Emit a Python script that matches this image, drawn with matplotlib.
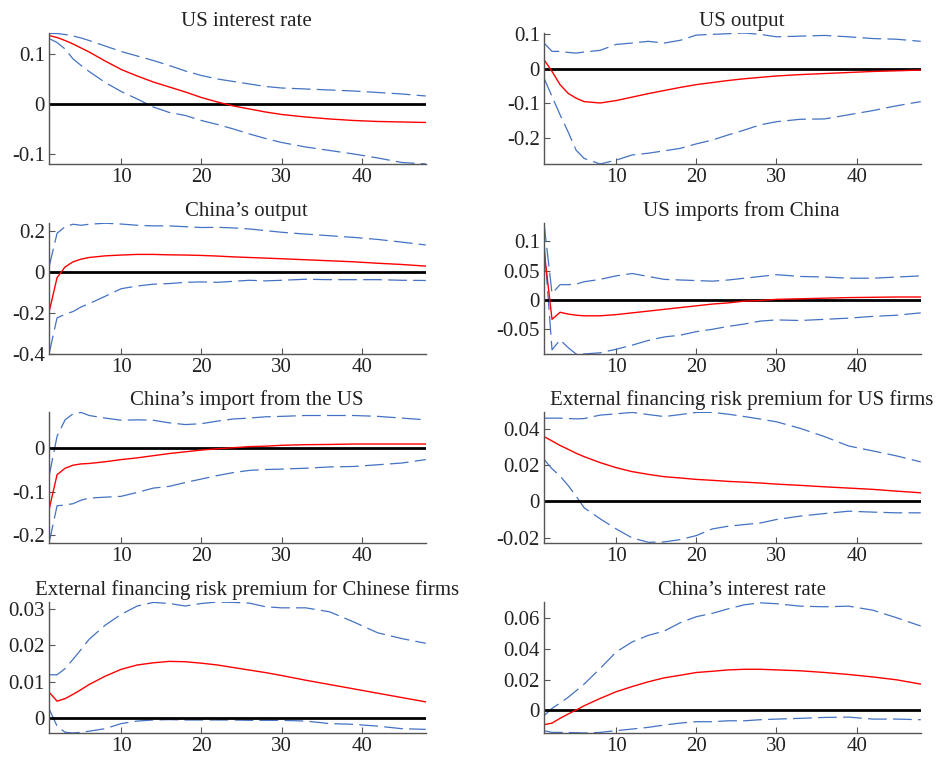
import matplotlib.pyplot as plt

plt.rcParams['font.family'] = ['Liberation Serif', 'DejaVu Serif']

periods = [1, 2, 3, 4, 5, 6, 8, 10, 12, 14, 16, 18, 20, 22, 24, 26, 28, 30, 33, 36, 39, 42, 45, 48]

titles = [
    "US interest rate", "US output",
    "China\u2019s output", "US imports from China",
    "China\u2019s import from the US", "External financing risk premium for US firms",
    "External financing risk premium for Chinese firms", "China\u2019s interest rate",
]

us_rate_med = [0.137, 0.133, 0.127, 0.120, 0.112, 0.104, 0.086, 0.069, 0.056, 0.044, 0.034, 0.024,
               0.013, 0.004, -0.004, -0.010, -0.016, -0.021, -0.026, -0.030, -0.033, -0.035, -0.036, -0.037]
us_rate_hi = [0.141, 0.141, 0.139, 0.136, 0.132, 0.127, 0.116, 0.105, 0.096, 0.087, 0.077, 0.066,
              0.057, 0.050, 0.045, 0.040, 0.035, 0.032, 0.030, 0.028, 0.026, 0.023, 0.020, 0.016]
us_rate_lo = [0.131, 0.123, 0.110, 0.090, 0.077, 0.065, 0.043, 0.025, 0.010, -0.006, -0.017, -0.023,
              -0.033, -0.041, -0.050, -0.060, -0.069, -0.077, -0.086, -0.093, -0.100, -0.108, -0.117, -0.120]

us_out_med = [0.026, -0.008, -0.046, -0.071, -0.085, -0.095, -0.099, -0.092, -0.082, -0.072, -0.063, -0.054,
              -0.046, -0.040, -0.034, -0.029, -0.025, -0.021, -0.017, -0.014, -0.011, -0.008, -0.006, -0.004]
us_out_hi = [0.074, 0.050, 0.050, 0.047, 0.045, 0.048, 0.053, 0.070, 0.074, 0.079, 0.074, 0.082,
             0.097, 0.099, 0.101, 0.103, 0.099, 0.092, 0.094, 0.096, 0.092, 0.087, 0.085, 0.079]
us_out_lo = [-0.027, -0.080, -0.133, -0.182, -0.235, -0.259, -0.275, -0.264, -0.249, -0.244, -0.237, -0.230,
             -0.217, -0.206, -0.191, -0.177, -0.162, -0.153, -0.146, -0.145, -0.133, -0.121, -0.107, -0.095]

cn_out_med = [-0.196, -0.028, 0.024, 0.049, 0.062, 0.070, 0.078, 0.082, 0.085, 0.085, 0.083, 0.082,
              0.080, 0.077, 0.073, 0.070, 0.067, 0.064, 0.059, 0.054, 0.049, 0.042, 0.036, 0.028]
cn_out_hi = [0.024, 0.188, 0.220, 0.232, 0.227, 0.232, 0.237, 0.233, 0.227, 0.224, 0.224, 0.220,
             0.216, 0.217, 0.214, 0.209, 0.201, 0.193, 0.184, 0.176, 0.168, 0.158, 0.145, 0.131]
cn_out_lo = [-0.400, -0.224, -0.207, -0.193, -0.171, -0.155, -0.119, -0.082, -0.069, -0.060, -0.057, -0.051,
             -0.049, -0.051, -0.046, -0.041, -0.044, -0.041, -0.036, -0.038, -0.038, -0.038, -0.041, -0.042]

us_imp_med = [0.085, -0.033, -0.021, -0.024, -0.026, -0.027, -0.027, -0.025, -0.022, -0.019, -0.016, -0.013,
              -0.010, -0.007, -0.005, -0.002, -0.001, 0.001, 0.002, 0.003, 0.004, 0.0045, 0.005, 0.005]
us_imp_hi = [0.131, 0.011, 0.026, 0.026, 0.027, 0.031, 0.035, 0.041, 0.045, 0.040, 0.035, 0.034,
             0.033, 0.032, 0.034, 0.037, 0.040, 0.043, 0.040, 0.039, 0.037, 0.037, 0.039, 0.041]
us_imp_lo = [0.100, -0.085, -0.068, -0.081, -0.092, -0.092, -0.090, -0.084, -0.077, -0.069, -0.063, -0.060,
             -0.054, -0.050, -0.045, -0.041, -0.036, -0.034, -0.035, -0.033, -0.031, -0.028, -0.026, -0.022]

cn_imp_med = [-0.142, -0.061, -0.046, -0.039, -0.036, -0.035, -0.031, -0.026, -0.022, -0.017, -0.012, -0.008,
              -0.004, -0.001, 0.0015, 0.004, 0.005, 0.007, 0.0085, 0.009, 0.010, 0.010, 0.010, 0.010]
cn_imp_hi = [-0.065, 0.028, 0.066, 0.080, 0.083, 0.076, 0.070, 0.065, 0.066, 0.065, 0.059, 0.055,
             0.057, 0.063, 0.068, 0.070, 0.073, 0.074, 0.076, 0.076, 0.076, 0.074, 0.070, 0.066]
cn_imp_lo = [-0.219, -0.133, -0.131, -0.128, -0.120, -0.115, -0.113, -0.111, -0.102, -0.092, -0.088, -0.079,
             -0.071, -0.063, -0.056, -0.051, -0.049, -0.048, -0.046, -0.043, -0.042, -0.038, -0.034, -0.026]

us_prem_med = [0.0359, 0.0335, 0.0310, 0.0289, 0.0267, 0.0248, 0.0215, 0.0187, 0.0165, 0.0150, 0.0137, 0.0130,
               0.0122, 0.0117, 0.0111, 0.0107, 0.0102, 0.0096, 0.0089, 0.0081, 0.0074, 0.0067, 0.0057, 0.0048]
us_prem_hi = [0.0461, 0.0461, 0.0461, 0.0459, 0.0457, 0.0459, 0.0478, 0.0485, 0.0493, 0.0481, 0.0470, 0.0481,
              0.0493, 0.0493, 0.0483, 0.0470, 0.0456, 0.0441, 0.0404, 0.0359, 0.0307, 0.0280, 0.0252, 0.0219]
us_prem_lo = [0.0233, 0.0181, 0.0141, 0.0089, 0.0030, -0.0035, -0.0096, -0.0152, -0.0202, -0.0226, -0.0224, -0.0211,
              -0.0189, -0.0152, -0.0137, -0.0128, -0.0119, -0.0100, -0.0081, -0.0067, -0.0054, -0.0059, -0.0063, -0.0063]

cn_prem_med = [0.0071, 0.0046, 0.0053, 0.0065, 0.0078, 0.0092, 0.0115, 0.0134, 0.0146, 0.0152, 0.0156, 0.0155,
               0.0151, 0.0146, 0.0139, 0.0132, 0.0125, 0.0117, 0.0104, 0.0092, 0.0080, 0.0068, 0.0056, 0.0044]
cn_prem_hi = [0.0119, 0.0119, 0.0136, 0.0162, 0.0189, 0.0217, 0.0256, 0.0286, 0.0309, 0.0319, 0.0316, 0.0309,
              0.0316, 0.0320, 0.0319, 0.0317, 0.0307, 0.0304, 0.0304, 0.0293, 0.0265, 0.0235, 0.0219, 0.0206]
cn_prem_lo = [0.0025, -0.0023, -0.0040, -0.0042, -0.0040, -0.0037, -0.0030, -0.0016, -0.0009, -0.0006, -0.0005, -0.0006,
              -0.0006, -0.0006, -0.0006, -0.0007, -0.0007, -0.0007, -0.0009, -0.0016, -0.0018, -0.0023, -0.0030, -0.0032]

cn_rate_med = [-0.0096, -0.0085, -0.0054, -0.0026, 0.0000, 0.0028, 0.0076, 0.0120, 0.0154, 0.0185, 0.0211, 0.0228,
               0.0246, 0.0254, 0.0263, 0.0267, 0.0267, 0.0263, 0.0257, 0.0246, 0.0233, 0.0217, 0.0198, 0.0170]
cn_rate_hi = [-0.0037, 0.0011, 0.0046, 0.0083, 0.0126, 0.0170, 0.0272, 0.0380, 0.0446, 0.0489, 0.0517, 0.0572,
              0.0611, 0.0633, 0.0663, 0.0689, 0.0702, 0.0696, 0.0680, 0.0676, 0.0680, 0.0654, 0.0604, 0.0550]
cn_rate_lo = [-0.0135, -0.0146, -0.0146, -0.0147, -0.0148, -0.0150, -0.0146, -0.0135, -0.0124, -0.0113, -0.0098, -0.0085,
              -0.0076, -0.0076, -0.0070, -0.0070, -0.0063, -0.0059, -0.0054, -0.0048, -0.0046, -0.0059, -0.0059, -0.0063]

medians = [us_rate_med, us_out_med, cn_out_med, us_imp_med, cn_imp_med, us_prem_med, cn_prem_med, cn_rate_med]
uppers = [us_rate_hi, us_out_hi, cn_out_hi, us_imp_hi, cn_imp_hi, us_prem_hi, cn_prem_hi, cn_rate_hi]
lowers = [us_rate_lo, us_out_lo, cn_out_lo, us_imp_lo, cn_imp_lo, us_prem_lo, cn_prem_lo, cn_rate_lo]

ylims = [(-0.12, 0.142), (-0.275, 0.103), (-0.40, 0.238), (-0.092, 0.131),
         (-0.219, 0.084), (-0.023, 0.0495), (-0.0042, 0.032), (-0.015, 0.0707)]
yticks = [[-0.1, 0, 0.1], [-0.2, -0.1, 0, 0.1], [-0.4, -0.2, 0, 0.2], [-0.05, 0, 0.05, 0.1],
          [-0.2, -0.1, 0], [-0.02, 0, 0.02, 0.04], [0, 0.01, 0.02, 0.03], [0, 0.02, 0.04, 0.06]]

fig = plt.figure(figsize=(9.36, 7.57), dpi=100)

lefts = [0.0524, 0.5812]
bottoms = [0.7834, 0.5324, 0.2827, 0.0317]
blue = '#4472C4'

for i in range(8):
    ax = fig.add_axes([lefts[i % 2], bottoms[i // 2], 0.4025, 0.173])
    ax.plot(periods, uppers[i], color=blue, lw=0.9, dashes=(15, 5))
    ax.plot(periods, lowers[i], color=blue, lw=0.9, dashes=(15, 5))
    ax.axhline(0, color='black', lw=2.0)
    ax.plot(periods, medians[i], color='red', lw=1.0)
    ax.set_xlim(1, 48)
    ax.set_ylim(*ylims[i])
    ax.set_xticks([10, 20, 30, 40])
    ax.set_yticks(yticks[i])
    ax.set_yticklabels([f"{t:g}" for t in yticks[i]])
    ax.set_title(titles[i], fontsize=15, color='#222222', pad=5, x=0.525)
    for side in ['top', 'right']:
        ax.spines[side].set_visible(False)
    for side in ['left', 'bottom']:
        ax.spines[side].set_color('#555555')
        ax.spines[side].set_linewidth(1.0)
    ax.tick_params(direction='in', length=4, color='#555555', labelsize=15,
                   labelcolor='#222222', pad=3)

fig.savefig('out.png', dpi=100)
